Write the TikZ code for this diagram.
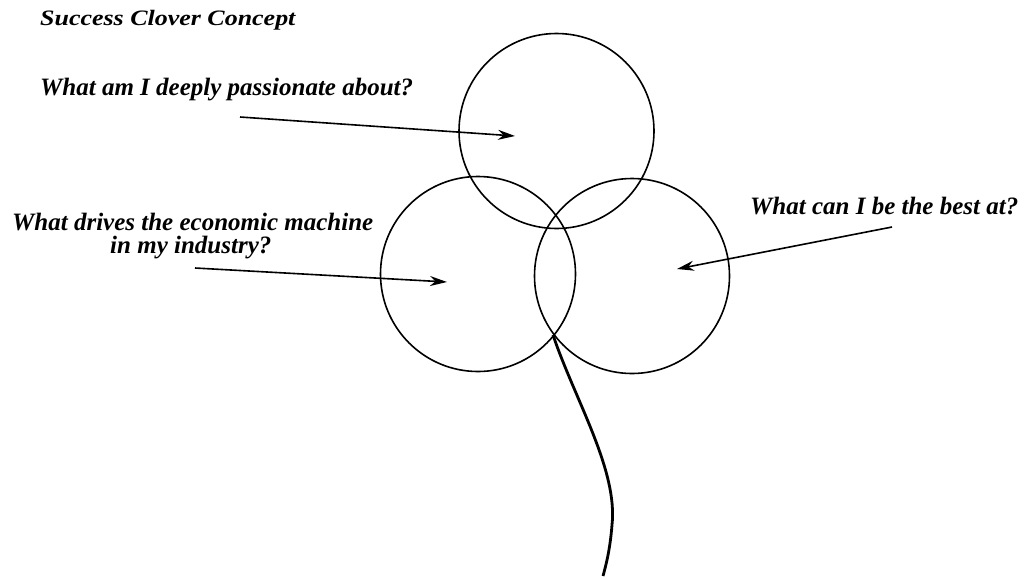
\documentclass[tikz,border=0pt]{standalone}
\usepackage{fontspec}
\setmainfont{Liberation Serif}
\newfontfamily\widefont[FakeStretch=1.18]{Liberation Serif}
\usetikzlibrary{arrows.meta}
\begin{document}
\begin{tikzpicture}[x=1pt,y=-1pt,
  lbl/.style={anchor=base west, inner sep=0pt, font=\fontsize{25}{28}\selectfont\bfseries\itshape},
  ring/.style={circle, draw, line width=1.6pt, minimum size=195pt, inner sep=0pt},
  ptr/.style={line width=1.6pt, -{Stealth[length=17pt,width=10pt]}},
  stem/.style={line width=2.8pt}]
\useasboundingbox (0,0) rectangle (1027,579);
\node[anchor=base west, inner sep=0pt, font=\widefont\fontsize{22}{25}\selectfont\bfseries\itshape] (title) at (40,25) {Success Clover Concept};
\node[lbl] (q1) at (40,95) {What am I deeply passionate about?};
\node[lbl] (q2) at (12,230) {What drives the economic machine};
\node[lbl] (q2b) at (110,253) {in my industry?};
\node[lbl] (q3) at (750,214) {What can I be the best at?};
\node[ring] (top) at (556.5,131) {};
\node[ring] (left) at (478,274) {};
\node[ring] (right) at (632,276) {};
\coordinate (s1) at (240,117);
\coordinate (t1) at (515,136);
\coordinate (s2) at (195,268);
\coordinate (t2) at (447,282);
\coordinate (s3) at (892,227);
\coordinate (t3) at (677,269);
\coordinate (st0) at (553,335);
\coordinate (st1) at (612,525);
\coordinate (st2) at (603,576);
\draw[ptr] (s1) -- (t1);
\draw[ptr] (s2) -- (t2);
\draw[ptr] (s3) -- (t3);
\draw[stem] (st0) .. controls (575,400) and (618,470) .. (st1) .. controls (610,550) and (606,565) .. (st2);
\end{tikzpicture}
\end{document}
